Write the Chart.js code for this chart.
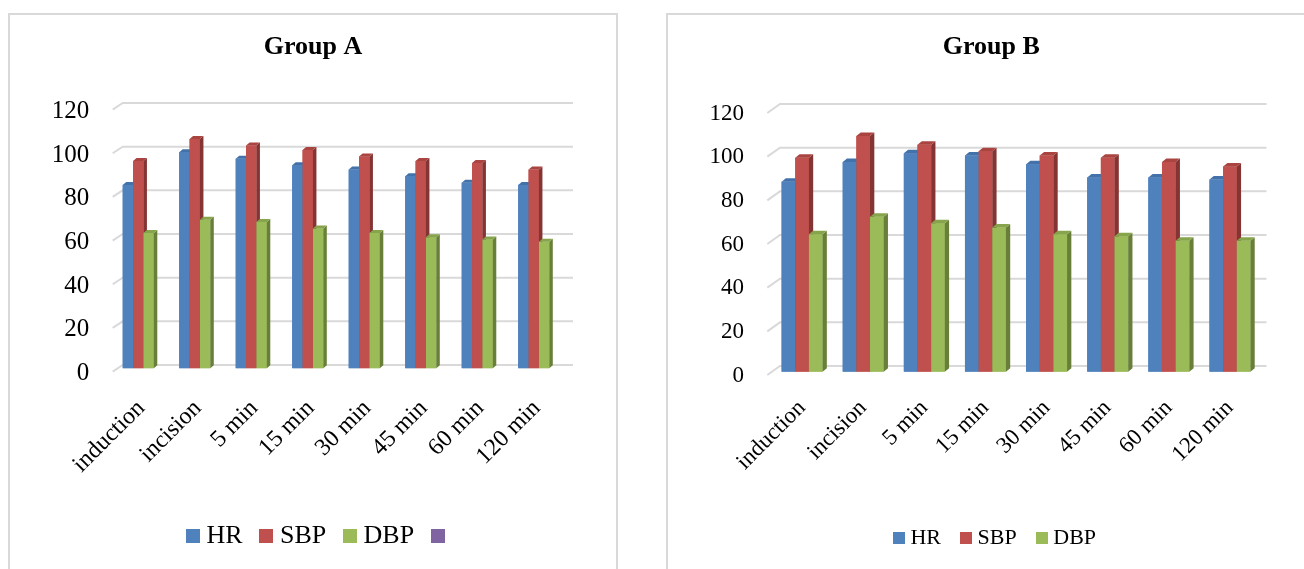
<!DOCTYPE html>
<html>
<head>
<meta charset="utf-8">
<title>Group A / Group B</title>
<script src="https://cdn.jsdelivr.net/npm/chart.js@4.4.0/dist/chart.umd.min.js"></script>
<style>
    body { margin: 0; background: #fff; width: 1304px; height: 569px; overflow: hidden; position: relative; }
    .frame { position: absolute; border: 2px solid #d9d9d9; box-sizing: border-box; }
    canvas { position: absolute; top: 0; }
</style>
</head>
<body>
<div class="frame" style="left:8px;top:13px;width:610px;height:600px"></div>
<div class="frame" style="left:666px;top:13px;width:700px;height:600px"></div>
<canvas id="chartA" width="640" height="569" style="left:0"></canvas>
<canvas id="chartB" width="654" height="569" style="left:650px"></canvas>
<script>
var categories = ['induction', 'incision', '5 min', '15 min', '30 min', '45 min', '60 min', '120 min'];
var yTicks = [0, 20, 40, 60, 80, 100, 120];

var groupA_HR = [84, 99, 96, 93, 91, 88, 85, 84];
var groupA_SBP = [95, 105, 102, 100, 97, 95, 94, 91];
var groupA_DBP = [62, 68, 67, 64, 62, 60, 59, 58];

var groupB_HR = [87, 96, 100, 99, 95, 89, 89, 88];
var groupB_SBP = [98, 108, 104, 101, 99, 98, 96, 94];
var groupB_DBP = [63, 71, 68, 66, 63, 62, 60, 60];

var serif = 'Liberation Serif, Times New Roman, serif';

// fake the excel 3d look: back wall grid + side/top faces of the bars
var depthBars = {
    id: 'depthBars',
    beforeDatasetsDraw: function (chart, args, opts) {
        var ctx = chart.ctx;
        var area = chart.chartArea;
        var y = chart.scales.y;
        ctx.save();
        ctx.strokeStyle = '#d9d9d9';
        ctx.lineWidth = 2;
        y.ticks.forEach(function (t) {
            var py = y.getPixelForValue(t.value);
            ctx.beginPath();
            ctx.moveTo(area.left + opts.sx, py + opts.sy);
            ctx.lineTo(area.left + opts.ex, py + opts.ey);
            ctx.lineTo(area.right + opts.ext, py + opts.ey);
            ctx.stroke();
        });
        ctx.restore();
    },
    afterDatasetsDraw: function (chart, args, opts) {
        var ctx = chart.ctx;
        var dx = opts.dx, dy = opts.dy;
        ctx.save();
        chart.data.datasets.forEach(function (ds, i) {
            var meta = chart.getDatasetMeta(i);
            meta.data.forEach(function (bar) {
                var p = bar.getProps(['x', 'y', 'base', 'width'], true);
                var l = p.x - p.width / 2;
                var r = p.x + p.width / 2;
                ctx.fillStyle = ds.backgroundColor;
                ctx.fillRect(l, p.y, p.width, p.base - p.y);
                ctx.fillStyle = ds.sideColor;
                ctx.beginPath();
                ctx.moveTo(r, p.y);
                ctx.lineTo(r + dx, p.y - dy);
                ctx.lineTo(r + dx, p.base - dy);
                ctx.lineTo(r, p.base);
                ctx.closePath();
                ctx.fill();
                ctx.fillStyle = ds.topColor;
                ctx.beginPath();
                ctx.moveTo(l, p.y);
                ctx.lineTo(l + dx, p.y - dy);
                ctx.lineTo(r + dx, p.y - dy);
                ctx.lineTo(r, p.y);
                ctx.closePath();
                ctx.fill();
            });
        });
        ctx.restore();
    }
};

// title/legend are centred over the whole box in the original, not over the plot
var nudge = {
    id: 'nudge',
    afterLayout: function (chart, args, opts) {
        if (chart.titleBlock) {
            chart.titleBlock.left += opts.title;
            chart.titleBlock.right += opts.title;
        }
        if (chart.legend) {
            chart.legend.left += opts.legend;
            chart.legend.right += opts.legend;
        }
    }
};

// legend square as a small canvas, so the text sits close to it like in excel
function swatch(color, size) {
    var c = document.createElement('canvas');
    c.width = size;
    c.height = size;
    var g = c.getContext('2d');
    g.fillStyle = color;
    g.fillRect(0, 0, size, size);
    return c;
}

function makeSets(hr, sbp, dbp) {
    return [
        { label: 'HR', data: hr, backgroundColor: '#4f81bd', sideColor: '#345a8a', topColor: '#4372ab' },
        { label: 'SBP', data: sbp, backgroundColor: '#c0504d', sideColor: '#843432', topColor: '#a94441' },
        { label: 'DBP', data: dbp, backgroundColor: '#9bbb59', sideColor: '#677f38', topColor: '#86a44b' }
    ];
}

function GetGroupChart(id, title, sets, o) {
    var ctx = document.getElementById(id).getContext('2d');
    return new Chart(ctx, {
        type: 'bar',
        data: { labels: categories, datasets: sets },
        options: {
            responsive: false,
            animation: false,
            categoryPercentage: o.catPct,
            barPercentage: 1,
            layout: { padding: o.pad },
            plugins: {
                title: {
                    display: true,
                    text: title,
                    color: '#000',
                    font: { family: serif, size: 26, weight: 'bold' },
                    padding: o.titlePad
                },
                legend: {
                    position: 'bottom',
                    labels: {
                        color: '#000',
                        font: { family: serif, size: o.legendFont },
                        usePointStyle: true,
                        pointStyleWidth: 1,
                        boxHeight: o.box,
                        padding: o.legendPad,
                        generateLabels: function (chart) {
                            var items = Chart.defaults.plugins.legend.labels.generateLabels(chart);
                            if (o.emptySeries) {
                                items.push({ text: '', fillStyle: '#8064a2', strokeStyle: '#8064a2', hidden: false, datasetIndex: -1 });
                            }
                            items.forEach(function (it) {
                                it.lineWidth = 0;
                                it.pointStyle = swatch(it.fillStyle, o.box);
                            });
                            return items;
                        }
                    }
                },
                tooltip: { enabled: false },
                depthBars: o.depth,
                nudge: o.nudge
            },
            scales: {
                x: {
                    grid: { display: false, drawTicks: false },
                    border: { display: false },
                    ticks: {
                        color: '#000',
                        font: { family: serif, size: o.catFont },
                        minRotation: 45,
                        maxRotation: 45,
                        autoSkip: false,
                        padding: o.catPad,
                        labelOffset: o.catShift
                    },
                    afterFit: function (s) { s.height = o.xHeight; }
                },
                y: {
                    min: 0,
                    max: 120,
                    grid: { display: false, drawTicks: false },
                    border: { display: false },
                    afterBuildTicks: function (s) { s.ticks = yTicks.map(function (v) { return { value: v }; }); },
                    ticks: {
                        color: '#000',
                        font: { family: serif, size: o.tickFont },
                        padding: o.tickPad,
                        labelOffset: o.tickShift
                    },
                    afterFit: function (s) { s.width = o.yWidth; }
                }
            }
        },
        plugins: [depthBars, nudge]
    });
}

GetGroupChart('chartA', 'Group A', makeSets(groupA_HR, groupA_SBP, groupA_DBP), {
    catPct: 0.55,
    pad: { left: 40, right: 78, top: 0, bottom: 10 },
    titlePad: { top: 32, bottom: 43.1 },
    legendFont: 26, box: 14, legendPad: 23.3, emptySeries: true,
    catFont: 24, catPad: 26, catShift: 3, xHeight: 131.4,
    tickFont: 25, tickPad: 20.7, tickShift: 5, yWidth: 70,
    depth: { dx: 3.5, dy: 3, sx: 2.7, sy: 3.3, ex: 12.7, ey: -3.3, ext: 11 },
    nudge: { title: 12, legend: 21 }
});

GetGroupChart('chartB', 'Group B', makeSets(groupB_HR, groupB_SBP, groupB_DBP), {
    catPct: 0.67,
    pad: { left: 50, right: 43.5, top: 0, bottom: 10 },
    titlePad: { top: 32, bottom: 46.5 },
    legendFont: 22, box: 12, legendPad: 24.6, emptySeries: false,
    catFont: 23, catPad: 23, catShift: 0, xHeight: 130.7,
    tickFont: 23, tickPad: 27.5, tickShift: 4, yWidth: 71.5,
    depth: { dx: 4.3, dy: 3.5, sx: -4.2, sy: 3.3, ex: 8.5, ey: -5.7, ext: 6 },
    nudge: { title: 11, legend: 17 }
});
</script>
</body>
</html>
